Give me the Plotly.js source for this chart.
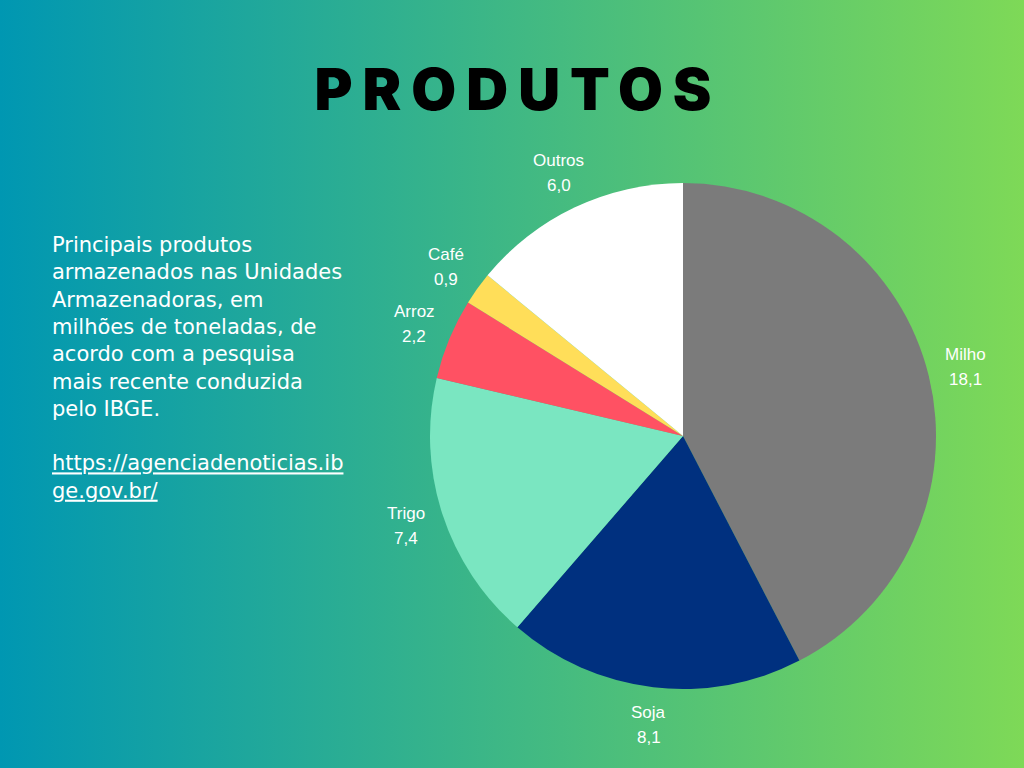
<!DOCTYPE html>
<html>
<head>
<meta charset="utf-8">
<script src="https://cdn.plot.ly/plotly-3.0.1.min.js"></script>
<style>
  html, body { margin: 0; padding: 0; }
  body { width: 1024px; height: 768px; overflow: hidden;
         background: linear-gradient(to right, #0097b2, #7ed957); }
  #chart { width: 1024px; height: 768px; }
  .gtitle { letter-spacing: 10px; }
</style>
</head>
<body>
<div id="chart"></div>
<script>
const categories = ["Milho", "Soja", "Trigo", "Arroz", "Café", "Outros"];
const values = [18.1, 8.1, 7.4, 2.2, 0.9, 6.0];
const sliceColors = ["#7b7b7b", "#00307f", "#7ae6c1", "#ff5163", "#ffde59", "#ffffff"];
const titleText = "PRODUTOS";
const descLines = [
  "Principais produtos",
  "armazenados nas Unidades",
  "Armazenadoras, em",
  "milhões de toneladas, de",
  "acordo com a pesquisa",
  "mais recente conduzida",
  "pelo IBGE."
];
const linkLines = ["https://agenciadenoticias.ib", "ge.gov.br/"];

const W = 1024, H = 768;
const cx = 683, cy = 436, r = 253;
const dom = {
  x: [(cx - r) / W, (cx + r) / W],
  y: [1 - (cy + r) / H, 1 - (cy - r) / H]
};

const trace = {
  type: "pie",
  labels: categories,
  values: values,
  sort: false,
  direction: "clockwise",
  rotation: 0,
  marker: { colors: sliceColors, line: { width: 0 } },
  textinfo: "none",
  hoverinfo: "label+value",
  showlegend: false,
  domain: dom
};

// slice labels placed outside each slice at its mid-angle
const total = values.reduce((a, b) => a + b, 0);
const labelFont = { family: "Liberation Sans, Arial, sans-serif", size: 17, color: "#ffffff" };
const labelAnns = [];
let cum = 0;
const rx = (dom.x[1] - dom.x[0]) / 2, ry = (dom.y[1] - dom.y[0]) / 2;
const pcx = (dom.x[0] + dom.x[1]) / 2, pcy = (dom.y[0] + dom.y[1]) / 2;
const k = 1.15;
const lineGap = 12.5 / H;
values.forEach((v, i) => {
  const mid = (cum + v / 2) / total * 2 * Math.PI;
  cum += v;
  const px = pcx + Math.sin(mid) * rx * k;
  const py = pcy + Math.cos(mid) * ry * k;
  labelAnns.push({
    text: categories[i], xref: "paper", yref: "paper",
    x: px, y: py + lineGap, xanchor: "center", yanchor: "middle",
    showarrow: false, font: labelFont
  });
  labelAnns.push({
    text: v.toFixed(1).replace(".", ","), xref: "paper", yref: "paper",
    x: px, y: py - lineGap, xanchor: "center", yanchor: "middle",
    showarrow: false, font: labelFont
  });
});

const descText = descLines.join("<br>") + "<br><br>" +
  linkLines.map(l => '<span style="text-decoration:underline">' + l + '</span>').join("<br>");

const layout = {
  width: W, height: H,
  margin: { l: 0, r: 0, t: 0, b: 0 },
  paper_bgcolor: "rgba(0,0,0,0)",
  plot_bgcolor: "rgba(0,0,0,0)",
  separators: ",.",
  showlegend: false,
  title: {
    text: titleText,
    x: 518 / W, xanchor: "center",
    y: 1 - 90 / H, yanchor: "middle",
    font: { family: "Inter, sans-serif", size: 58, color: "#000000", weight: 900 }
  },
  annotations: [{
    text: descText,
    xref: "paper", yref: "paper",
    x: 50 / W, xanchor: "left",
    y: 1 - 231 / H, yanchor: "top",
    align: "left",
    showarrow: false,
    font: { family: "DejaVu Sans, sans-serif", size: 21, color: "#ffffff" }
  }].concat(labelAnns)
};

Plotly.newPlot("chart", [trace], layout, { displayModeBar: false, staticPlot: true });
</script>
</body>
</html>
